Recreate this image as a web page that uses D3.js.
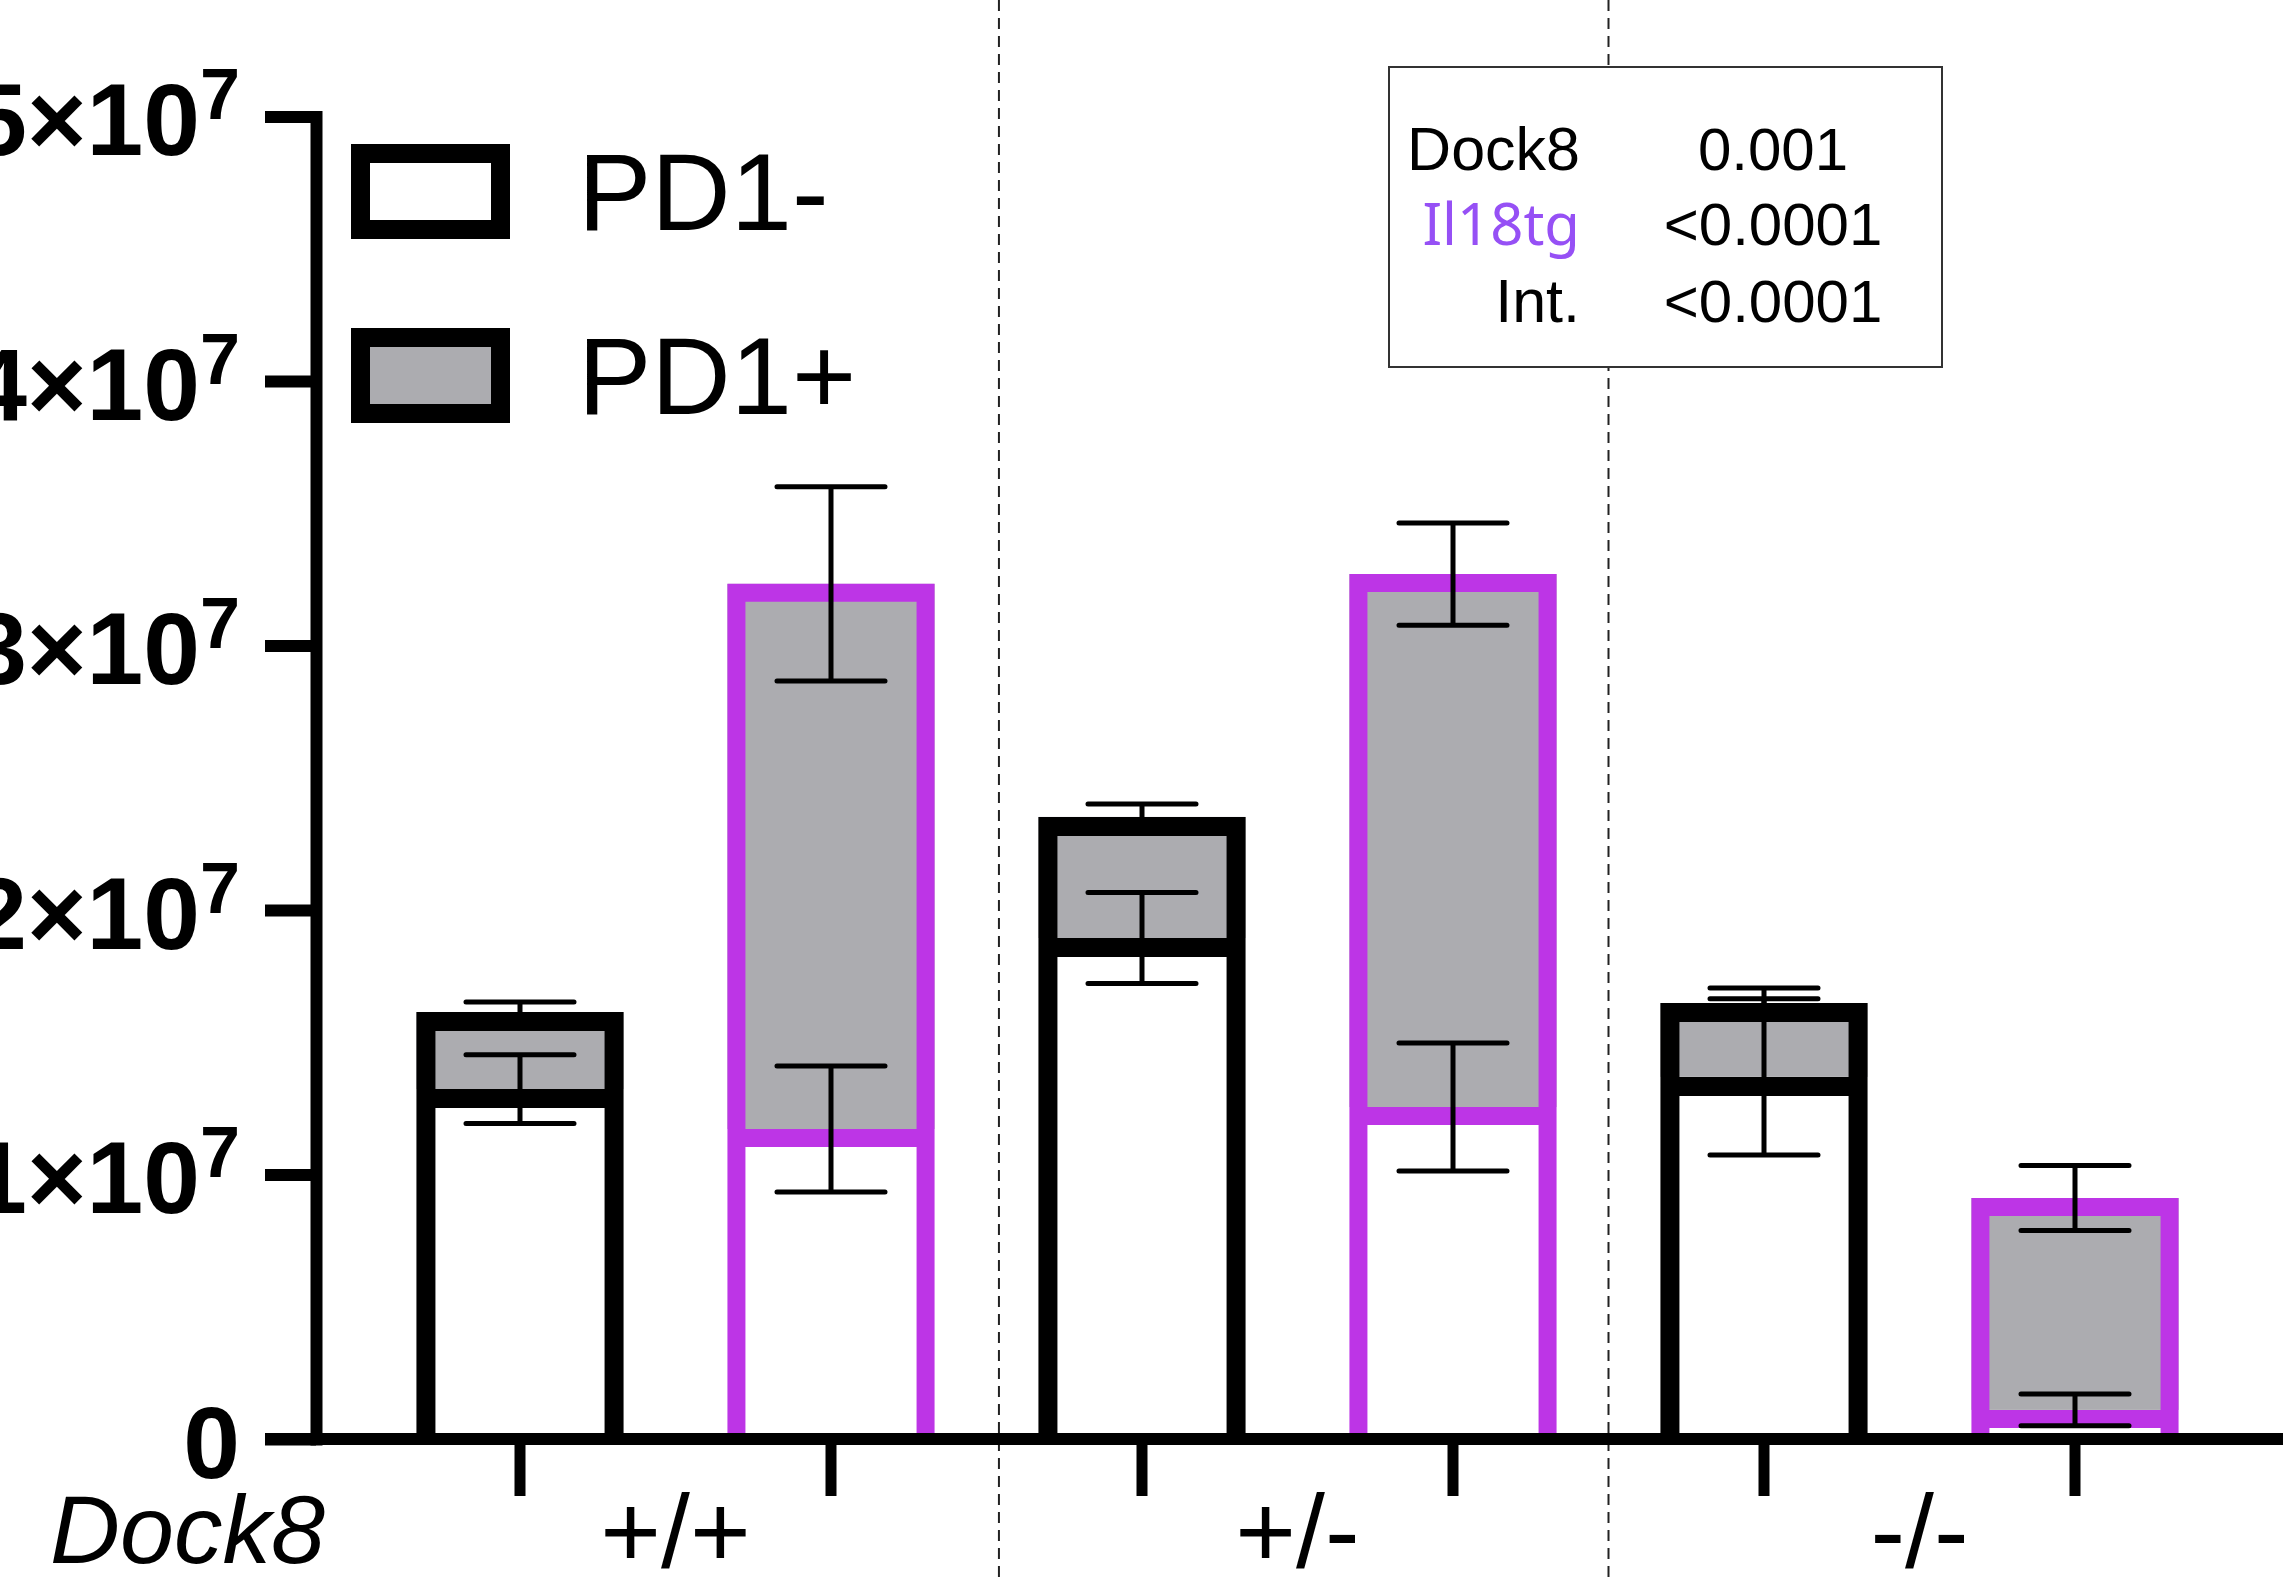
<!DOCTYPE html>
<html>
<head>
<meta charset="utf-8">
<script src="https://cdn.jsdelivr.net/npm/d3@7"></script>
<style>
  html, body { margin: 0; padding: 0; background: #ffffff; }
  svg { display: block; }
</style>
</head>
<body>
<div id="chart"></div>
<script>
// ---------------- data ----------------
const groups = ["+/+", "+/-", "-/-"];
const barIds = ["+/+ ctrl", "+/+ Il18tg", "+/- ctrl", "+/- Il18tg", "-/- ctrl", "-/- Il18tg"];
const barGroup = [0, 0, 1, 1, 2, 2];
const barIl18tg = [false, true, false, true, false, true];
const pd1NegMean = [1.323e7, 1.172e7, 1.894e7, 1.255e7, 1.369e7, 0.110e7];
const pd1NegSem  = [0.130e7, 0.238e7, 0.172e7, 0.242e7, 0.295e7, 0.060e7];
const pd1PosMean = [0.291e7, 2.061e7, 0.458e7, 2.015e7, 0.279e7, 0.801e7];
const pd1PosSem  = [0.038e7, 0.367e7, 0.049e7, 0.193e7, 0.057e7, 0.123e7];
const yTicks = [0, 1e7, 2e7, 3e7, 4e7, 5e7];
const yTickMantissa = ["0", "1×10", "2×10", "3×10", "4×10", "5×10"];
const yTickExponent = ["", "7", "7", "7", "7", "7"];
const legendLabels = ["PD1-", "PD1+"];
const statTerms = ["Dock8", "Il18tg", "Int."];
const statPValues = ["0.001", "<0.0001", "<0.0001"];
const dividerSlots = [1.54, 3.5];   // separators, in bar-slot units
const xAxisTitle = "Dock8";

// ---------------- styles ----------------
const W = 2293, H = 1582;
const BLACK = "#000000";
const PURPLE = "#bd35e6";
const PURPLE_TXT = "#9650f5";
const GRAY = "#acacb0";
const FONT = "'Liberation Sans', Arial, Helvetica, sans-serif";

const svg = d3.select("#chart").append("svg")
  .attr("width", W).attr("height", H)
  .attr("viewBox", `0 0 ${W} ${H}`);

// ---------------- scales ----------------
const axisX = 316;          // y-axis position
const yTickLen = 51;
const y = d3.scaleLinear().domain([0, 5e7]).range([1439, 116.5]);
const step = 311;
const x = d3.scaleBand().domain(barIds)
  .range([520 - step / 2, 520 - step / 2 + step * barIds.length])
  .paddingInner(0.334).paddingOuter(0.167);
const bw = x.bandwidth();
const slot = d3.scaleLinear().domain([0, 1]).range([x(barIds[0]) + bw / 2, x(barIds[1]) + bw / 2]);

// ---------------- dashed dividers ----------------
svg.append("g").selectAll("line").data(dividerSlots).join("line")
  .attr("x1", d => slot(d)).attr("x2", d => slot(d))
  .attr("y1", 0).attr("y2", H)
  .attr("stroke", "#222222").attr("stroke-width", 2)
  .attr("stroke-dasharray", "11,7");

// ---------------- bars ----------------
const segs = [];
barIds.forEach((id, i) => {
  const sw = barIl18tg[i] ? 18 : 19;
  const col = barIl18tg[i] ? PURPLE : BLACK;
  segs.push({id, lo: 0, hi: pd1NegMean[i], fill: "#ffffff", col, sw});
  segs.push({id, lo: pd1NegMean[i], hi: pd1NegMean[i] + pd1PosMean[i], fill: GRAY, col, sw});
});
const gBars = svg.append("g");
gBars.selectAll("rect").data(segs).join("rect")
  .attr("x", d => x(d.id)).attr("width", bw)
  .attr("y", d => y(d.hi)).attr("height", d => y(d.lo) - y(d.hi))
  .attr("fill", d => d.fill);
gBars.selectAll("path").data(segs).join("path")
  .attr("d", d => {
    const x0 = x(d.id) + d.sw / 2, x1 = x(d.id) + bw - d.sw / 2;
    return `M${x0},${y(d.lo)}V${y(d.hi) + d.sw / 2}H${x1}V${y(d.lo)}`;
  })
  .attr("fill", "none").attr("stroke", d => d.col)
  .attr("stroke-width", d => d.sw).attr("stroke-linejoin", "miter");

// ---------------- error bars ----------------
const errs = [];
barIds.forEach((id, i) => {
  errs.push({id, m: pd1NegMean[i], s: pd1NegSem[i]});
  errs.push({id, m: pd1NegMean[i] + pd1PosMean[i], s: pd1PosSem[i]});
});
const capW = 108;
const gErr = svg.append("g").attr("stroke", BLACK).attr("stroke-width", 5)
  .attr("stroke-linecap", "round").attr("fill", "none");
gErr.selectAll("path").data(errs).join("path")
  .attr("d", d => {
    const cx = x(d.id) + bw / 2;
    const yt = y(d.m + d.s), yb = y(d.m - d.s);
    return `M${cx},${yt}V${yb}M${cx - capW / 2},${yt}H${cx + capW / 2}M${cx - capW / 2},${yb}H${cx + capW / 2}`;
  });

// ---------------- y axis ----------------
const yAxis = d3.axisLeft(y).tickValues(yTicks).tickSize(yTickLen).tickSizeOuter(0).tickFormat("");
const gy = svg.append("g").attr("transform", `translate(${axisX},0)`).call(yAxis);
gy.select(".domain").attr("stroke", BLACK).attr("stroke-width", 12).attr("stroke-linecap", "square");
gy.selectAll(".tick line").attr("stroke", BLACK).attr("stroke-width", 12);
gy.selectAll(".tick text").remove();
gy.selectAll(".tick").each(function (d, i) {
  const t = d3.select(this).append("text")
    .attr("x", -(yTickLen + 25)).attr("y", 0)
    .attr("text-anchor", "end")
    .attr("font-family", FONT).attr("font-weight", "bold")
    .attr("font-size", 102).attr("fill", BLACK);
  t.append("tspan").attr("dy", 38).text(yTickMantissa[i]);
  if (yTickExponent[i]) {
    t.append("tspan").attr("dy", -36).attr("font-size", 72).text(yTickExponent[i]);
  }
});

// ---------------- x axis ----------------
svg.append("line")
  .attr("x1", axisX - yTickLen).attr("x2", 2283)
  .attr("y1", y(0)).attr("y2", y(0))
  .attr("stroke", BLACK).attr("stroke-width", 12);
const xAxis = d3.axisBottom(x).tickSize(57).tickSizeOuter(0).tickFormat("");
const gx = svg.append("g").attr("transform", `translate(0,${y(0)})`).call(xAxis);
gx.select(".domain").remove();
gx.selectAll(".tick line").attr("stroke", BLACK).attr("stroke-width", 11);

// group labels
svg.append("g").selectAll("text").data(groups).join("text")
  .attr("x", (d, gi) => {
    const ids = barIds.filter((_, i) => barGroup[i] === gi);
    return (x(ids[0]) + x(ids[ids.length - 1]) + bw) / 2;
  })
  .attr("y", 1567)
  .attr("text-anchor", "middle")
  .attr("font-family", FONT).attr("font-size", 104).attr("fill", BLACK)
  .text(d => d);

svg.append("text")
  .attr("x", 50).attr("y", 1563)
  .attr("font-family", FONT).attr("font-style", "italic")
  .attr("font-size", 97).attr("fill", BLACK)
  .text(xAxisTitle);

// ---------------- legend ----------------
const legendFills = ["#ffffff", GRAY];
const gLeg = svg.append("g");
legendLabels.forEach((lab, i) => {
  const top = 153.5 + i * 184;
  gLeg.append("rect")
    .attr("x", 360.5).attr("y", top).attr("width", 140).attr("height", 76)
    .attr("fill", legendFills[i]).attr("stroke", BLACK).attr("stroke-width", 19);
  gLeg.append("text")
    .attr("x", 578).attr("y", top + 76)
    .attr("font-family", FONT).attr("font-size", 110).attr("fill", BLACK)
    .text(lab);
});

// ---------------- stats box ----------------
const gStat = svg.append("g");
gStat.append("rect")
  .attr("x", 1389).attr("y", 67).attr("width", 553).attr("height", 300)
  .attr("fill", "#ffffff").attr("stroke", "#333333").attr("stroke-width", 2);
const statY = [170, 245, 322];
statTerms.forEach((term, i) => {
  const isTg = term === "Il18tg";
  gStat.append("text")
    .attr("x", 1580).attr("y", statY[i])
    .attr("text-anchor", "end")
    .attr("font-family", isTg ? "'Noto Sans', 'Open Sans', sans-serif" : FONT)
    .attr("font-size", isTg ? 58 : 61)
    .attr("fill", isTg ? PURPLE_TXT : BLACK)
    .text(term);
  gStat.append("text")
    .attr("x", 1773).attr("y", statY[i])
    .attr("text-anchor", "middle")
    .attr("font-family", FONT).attr("font-size", 60).attr("fill", BLACK)
    .text(statPValues[i]);
});
</script>
</body>
</html>
